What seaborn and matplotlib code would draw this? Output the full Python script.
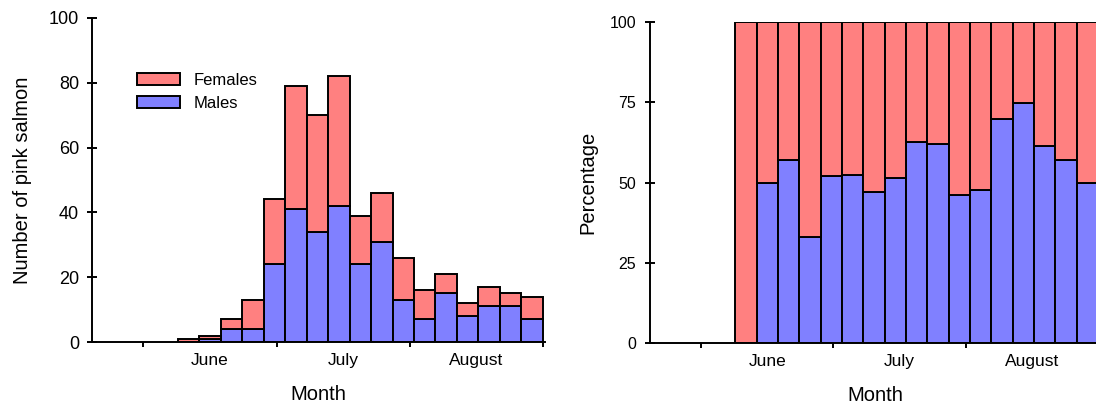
import numpy as np
import pandas as pd
import matplotlib
matplotlib.use('Agg')
import matplotlib.pyplot as plt
import seaborn as sns

# 5-day sampling bins, x = days after 1 June (bin centres)
day = [10.5, 15.5, 20.5, 25.5, 30.5, 35.5, 40.5, 45.5, 50.5,
       55.5, 60.5, 65.5, 70.5, 75.5, 80.5, 85.5, 90.5]

# counts of pink salmon per bin
males = [0, 1, 4, 4, 24, 41, 34, 42, 24, 31, 13, 7, 15, 8, 11, 11, 7]
females = [1, 1, 3, 9, 20, 38, 36, 40, 15, 15, 13, 9, 6, 4, 6, 4, 7]

# percentage of males per bin (right panel)
pct_males = [0, 50.0, 57.0, 33.0, 52.1, 52.3, 47.2, 51.4, 62.7,
             61.9, 46.2, 47.7, 69.9, 74.9, 61.5, 57.0, 50.0]

month_starts = [0, 31, 62, 93]
month_names = ['June', 'July', 'August']

sex_order = ['Females', 'Males']
colors = {'Females': '#ff8080', 'Males': '#8080ff'}


def long_df(m, f):
    return pd.DataFrame({
        'day': day * 2,
        'count': list(f) + list(m),
        'sex': ['Females'] * len(day) + ['Males'] * len(day),
    })


counts = long_df(males, females)
pct = long_df(pct_males, [100 - v for v in pct_males])

sns.set_style('ticks', {'axes.edgecolor': 'black', 'text.color': 'black',
                        'axes.labelcolor': 'black', 'xtick.color': 'black',
                        'ytick.color': 'black'})
plt.rcParams['font.family'] = ['Liberation Sans', 'DejaVu Sans']
plt.rcParams['axes.linewidth'] = 1.4

lw = 1.4
hist_kws = dict(x='day', weights='count', hue='sex', hue_order=sex_order,
                multiple='stack', binwidth=5, binrange=(8, 93), palette=colors,
                alpha=1, edgecolor='black', linewidth=lw)

fig = plt.figure(figsize=(10.96, 4.07), dpi=100)
ax1 = fig.add_axes([0.0839, 0.1597, 0.4133, 0.7961])
ax2 = fig.add_axes([0.5931, 0.1565, 0.4106, 0.7895])

sns.histplot(data=counts, ax=ax1, **hist_kws)
sns.histplot(data=pct, legend=False, ax=ax2, **hist_kws)

mids = [(a + b) / 2 for a, b in zip(month_starts[:-1], month_starts[1:])]

for ax in (ax1, ax2):
    ax.set_xlim(-12, 93.5)
    ax.set_xticks(month_starts)
    ax.set_xticklabels([])
    ax.set_xticks(mids, minor=True)
    ax.set_xticklabels(month_names, minor=True)
    ax.tick_params(axis='x', which='major', direction='out', length=3.6, width=lw)
    ax.tick_params(axis='x', which='minor', length=0, labelsize=12.5, pad=8)
    ax.set_xlabel('Month', fontsize=14.5, labelpad=12)
    sns.despine(ax=ax)

ax1.set_ylim(0, 100)
ax1.set_yticks([0, 20, 40, 60, 80, 100])
ax1.tick_params(axis='y', direction='inout', length=6.5, width=lw, labelsize=13, pad=6)
ax1.set_ylabel('Number of pink salmon', fontsize=14.5, labelpad=12)

ax2.set_ylim(0, 100)
ax2.set_yticks([0, 25, 50, 75, 100])
ax2.tick_params(axis='y', direction='inout', length=7, width=lw, labelsize=11.5, pad=6.5)
ax2.set_ylabel('Percentage', fontsize=14.5, labelpad=9)

sns.move_legend(ax1, 'upper left', bbox_to_anchor=(0.099, 0.83), frameon=False,
                title=None, fontsize=12, handlelength=2.6, handleheight=0.7,
                borderpad=0, borderaxespad=0, labelspacing=0.45, handletextpad=0.8)

fig.savefig('out.png', dpi=100)
